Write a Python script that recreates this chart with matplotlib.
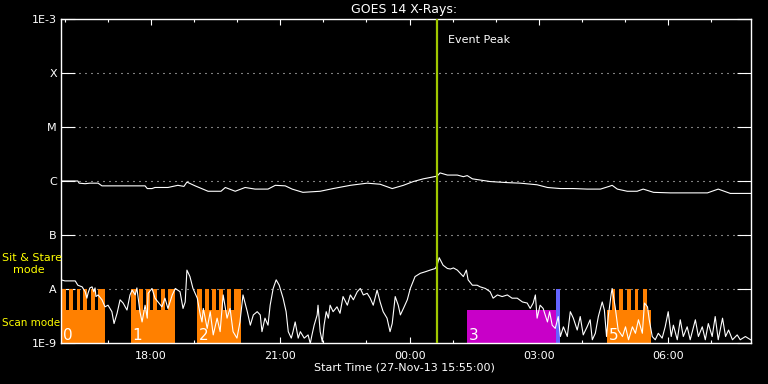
"""
GOES 14 X-ray light curve with the spectrometer observing modes
(scan / sit & stare) drawn underneath, IDL-style black plot.
"""

import matplotlib
matplotlib.use("Agg")
import matplotlib.pyplot as plt
import matplotlib.ticker as mticker
import numpy as np

TITLE = "GOES 14 X-Rays:"
XLABEL = "Start Time (27-Nov-13 15:55:00)"

# time axis: hours after 27-Nov-13 15:55 UT
# long channel (1-8 A), log10 flux in W/m^2
long_t = [0.00, 0.39, 0.42, 0.56, 0.67, 0.86, 0.95, 1.32, 1.95, 2.00,
          2.11, 2.18, 2.48, 2.71, 2.85, 2.92, 3.11, 3.41, 3.71, 3.81,
          4.04, 4.27, 4.50, 4.80, 4.97, 5.20, 5.36, 5.61, 6.01, 6.31,
          6.71, 7.10, 7.40, 7.68, 7.94, 8.17, 8.40, 8.72, 8.79, 8.96,
          9.19, 9.33, 9.42, 9.54, 9.95, 10.35, 10.65, 11.04, 11.28, 11.58,
          11.88, 12.20, 12.51, 12.71, 12.78, 12.90, 13.13, 13.36, 13.50, 13.74,
          14.13, 14.99, 15.24, 15.52, 16.01]
long_logflux = [-6.00, -6.00, -6.04, -6.05, -6.04, -6.04, -6.09, -6.09, -6.09, -6.14,
                -6.14, -6.12, -6.12, -6.08, -6.10, -6.02, -6.09, -6.19, -6.19, -6.12,
                -6.19, -6.12, -6.15, -6.15, -6.08, -6.09, -6.15, -6.21, -6.19, -6.14,
                -6.08, -6.04, -6.06, -6.14, -6.08, -6.01, -5.96, -5.91, -5.85, -5.89,
                -5.89, -5.92, -5.90, -5.96, -6.01, -6.03, -6.04, -6.07, -6.12, -6.14,
                -6.14, -6.15, -6.15, -6.10, -6.08, -6.15, -6.19, -6.19, -6.15, -6.21,
                -6.22, -6.22, -6.15, -6.23, -6.23]

# short channel (0.5-4 A), log10 flux in W/m^2
short_t = [0.00, 0.09, 0.33, 0.39, 0.49, 0.56, 0.60, 0.63, 0.67, 0.72,
           0.76, 0.79, 0.81, 0.86, 0.95, 1.02, 1.09, 1.18, 1.23, 1.30,
           1.37, 1.44, 1.53, 1.60, 1.65, 1.72, 1.76, 1.83, 1.88, 1.95,
           2.00, 2.02, 2.11, 2.18, 2.25, 2.34, 2.41, 2.48, 2.58, 2.65,
           2.76, 2.83, 2.88, 2.92, 2.99, 3.06, 3.16, 3.23, 3.27, 3.30,
           3.39, 3.46, 3.53, 3.62, 3.69, 3.76, 3.85, 3.92, 3.99, 4.08,
           4.15, 4.22, 4.32, 4.39, 4.46, 4.55, 4.62, 4.66, 4.73, 4.80,
           4.85, 4.92, 4.99, 5.06, 5.15, 5.22, 5.27, 5.34, 5.38, 5.43,
           5.50, 5.55, 5.64, 5.73, 5.78, 5.82, 5.87, 5.94, 5.96, 6.01,
           6.06, 6.10, 6.15, 6.20, 6.24, 6.31, 6.40, 6.47, 6.54, 6.64,
           6.71, 6.78, 6.87, 6.94, 7.01, 7.10, 7.17, 7.24, 7.33, 7.40,
           7.47, 7.56, 7.63, 7.68, 7.75, 7.82, 7.87, 7.94, 8.03, 8.10,
           8.21, 8.33, 8.45, 8.56, 8.68, 8.72, 8.77, 8.86, 8.96, 9.03,
           9.10, 9.19, 9.26, 9.33, 9.40, 9.44, 9.54, 9.65, 9.72, 9.84,
           9.95, 10.02, 10.12, 10.23, 10.35, 10.46, 10.58, 10.70, 10.81, 10.88,
           10.95, 11.00, 11.04, 11.11, 11.18, 11.28, 11.33, 11.39, 11.46, 11.53,
           11.58, 11.65, 11.74, 11.81, 11.88, 11.97, 12.04, 12.11, 12.20, 12.27,
           12.32, 12.39, 12.46, 12.55, 12.60, 12.65, 12.69, 12.76, 12.78, 12.85,
           12.92, 13.02, 13.09, 13.16, 13.25, 13.32, 13.39, 13.48, 13.53, 13.60,
           13.64, 13.71, 13.78, 13.85, 13.94, 14.01, 14.08, 14.15, 14.20, 14.29,
           14.36, 14.43, 14.52, 14.59, 14.71, 14.78, 14.87, 14.94, 15.01, 15.10,
           15.17, 15.24, 15.34, 15.41, 15.48, 15.57, 15.68, 15.75, 15.87, 15.99]
short_logflux = [-7.83, -7.85, -7.85, -7.93, -7.96, -8.05, -8.17, -8.07, -7.98, -7.96,
                 -8.05, -7.98, -8.14, -8.11, -8.20, -8.33, -8.30, -8.42, -8.64, -8.45,
                 -8.20, -8.26, -8.39, -8.11, -8.02, -8.11, -7.98, -8.42, -8.61, -8.30,
                 -8.54, -8.08, -7.99, -8.17, -8.24, -8.33, -8.17, -8.36, -8.11, -7.99,
                 -8.05, -8.36, -8.24, -7.65, -7.77, -7.99, -8.17, -8.48, -8.61, -8.36,
                 -8.73, -8.42, -8.85, -8.54, -8.79, -8.11, -8.54, -8.36, -8.79, -8.91,
                 -8.61, -8.11, -8.42, -8.67, -8.48, -8.42, -8.48, -8.79, -8.54, -8.67,
                 -8.30, -7.99, -7.83, -7.93, -8.17, -8.42, -8.79, -8.91, -8.79, -8.61,
                 -8.91, -8.79, -8.91, -8.85, -9.01, -8.85, -8.67, -8.48, -8.30, -8.79,
                 -8.98, -8.67, -8.42, -8.54, -8.30, -8.42, -8.33, -8.45, -8.14, -8.30,
                 -8.11, -8.20, -8.05, -7.99, -8.11, -8.08, -8.17, -8.30, -8.02, -8.24,
                 -8.42, -8.54, -8.79, -8.64, -8.14, -8.30, -8.48, -8.36, -8.20, -7.99,
                 -7.77, -7.71, -7.68, -7.65, -7.62, -7.56, -7.42, -7.56, -7.62, -7.63,
                 -7.61, -7.65, -7.71, -7.77, -7.65, -7.83, -7.93, -7.93, -7.96, -7.99,
                 -8.05, -8.17, -8.11, -8.14, -8.11, -8.17, -8.17, -8.24, -8.26, -8.36,
                 -8.26, -8.11, -8.54, -8.30, -8.36, -8.61, -8.42, -8.67, -8.73, -8.51,
                 -8.88, -8.70, -8.88, -8.42, -8.54, -8.76, -8.51, -8.85, -8.70, -8.57,
                 -8.94, -8.82, -8.51, -8.24, -8.39, -8.88, -8.51, -8.08, -7.99, -8.33,
                 -8.76, -8.88, -8.70, -8.94, -8.70, -8.82, -8.57, -8.82, -8.26, -8.33,
                 -8.57, -8.88, -8.94, -8.82, -8.91, -8.70, -8.42, -8.88, -8.67, -8.94,
                 -8.57, -8.88, -8.70, -8.94, -8.57, -8.88, -8.70, -8.94, -8.64, -8.88,
                 -8.51, -8.94, -8.54, -8.88, -8.76, -8.94, -8.85, -8.94, -8.88, -8.94]

# scan mode blocks (numbered)
scan_start = [0.00, 1.62, 3.16, 9.42, 12.67]
scan_end = [1.02, 2.65, 4.18, 11.48, 13.69]
scan_label = ["0", "1", "2", "3", "5"]
scan_color = ["#ff8000", "#ff8000", "#ff8000", "#c800c8", "#ff8000"]
scan_top = 4.1e-9

# sit & stare pulses
stare_start = [0.00, 0.19, 0.36, 0.52, 0.69, 0.86,
               1.62, 1.81, 1.98, 2.14, 2.31, 2.48,
               3.16, 3.34, 3.51, 3.67, 3.84, 4.01,
               11.48,
               12.78, 12.95, 13.13, 13.31, 13.49]
stare_end = [0.11, 0.28, 0.45, 0.61, 0.79, 1.02,
             1.73, 1.90, 2.07, 2.23, 2.41, 2.65,
             3.26, 3.43, 3.60, 3.76, 3.94, 4.18,
             11.58,
             12.85, 13.03, 13.21, 13.38, 13.59]
stare_color = ["#ff8000"] * 18 + ["#6464ff"] + ["#ff8000"] * 5
stare_top = 1e-8

event_peak_t = 8.72

flux_levels = [1e-9, 1e-8, 1e-7, 1e-6, 1e-5, 1e-4, 1e-3]
flux_labels = ["1E-9", "A", "B", "C", "M", "X", "1E-3"]
xtick_t = [2.083, 5.083, 8.083, 11.083, 14.083]
xtick_labels = ["18:00", "21:00", "00:00", "03:00", "06:00"]
minor_t = [0.083 + h for h in range(16)]

WHITE = "white"
YELLOW = "#ffff00"
PEAK_GREEN = "#a0c800"


def plot_goes():
    fig = plt.figure(figsize=(7.68, 3.84), dpi=100, facecolor="black")
    ax = fig.add_axes([61 / 768, 41 / 384, 690 / 768, 324 / 384])
    ax.set_facecolor("black")
    ax.set_yscale("log")
    ax.set_xlim(0, 16.0)
    ax.set_ylim(flux_levels[0], flux_levels[-1])

    # dotted level lines
    ax.hlines(flux_levels[1:-1], 0, 16.0, colors=WHITE, linewidth=0.8,
              linestyles=(0, (0.9, 4.5)), zorder=1)

    # observing modes
    for s, e, c in zip(scan_start, scan_end, scan_color):
        ax.bar(s, scan_top - flux_levels[0], width=e - s, bottom=flux_levels[0],
               align="edge", color=c, linewidth=0, zorder=2)
    for s, e, c in zip(stare_start, stare_end, stare_color):
        ax.bar(s, stare_top - flux_levels[0], width=e - s, bottom=flux_levels[0],
               align="edge", color=c, linewidth=0, zorder=2)
    for s, lab in zip(scan_start, scan_label):
        ax.text(s + 0.04, 1.15e-9, lab, color=WHITE, fontsize=11,
                ha="left", va="baseline", zorder=5)

    # light curves
    ax.plot(long_t, 10 ** np.array(long_logflux), color=WHITE, lw=0.8, zorder=3)
    ax.plot(short_t, 10 ** np.array(short_logflux), color=WHITE, lw=0.8, zorder=3)

    ax.axvline(event_peak_t, color=PEAK_GREEN, lw=1.6, zorder=4)
    ax.text(event_peak_t + 0.26, 4e-4, "Event Peak", color=WHITE, fontsize=8,
            ha="left", va="center", zorder=5)

    # axes styling
    for sp in ax.spines.values():
        sp.set_color(WHITE)
        sp.set_linewidth(1.0)
    ax.set_yticks(flux_levels, flux_labels)
    ax.yaxis.set_minor_locator(mticker.NullLocator())
    ax.tick_params(axis="y", which="major", direction="in", length=10, width=0.8,
                   left=True, right=True, colors=WHITE, labelsize=8, pad=3)
    ax.set_xticks(xtick_t, xtick_labels)
    ax.set_xticks(minor_t, minor=True)
    ax.tick_params(axis="x", which="major", direction="in", length=4.5, width=0.8,
                   top=True, bottom=True, colors=WHITE, labelsize=8, pad=6)
    ax.tick_params(axis="x", which="minor", direction="in", length=2.2, width=0.8,
                   top=True, bottom=True, colors=WHITE)

    fig.text(404 / 768, 1 - 9 / 384, TITLE, color=WHITE, fontsize=9,
             ha="center", va="center")
    fig.text(404 / 768, 1 - 368 / 384, XLABEL, color=WHITE, fontsize=8,
             ha="center", va="center")
    fig.text(2 / 768, 1 - 258 / 384, "Sit & Stare", color=YELLOW, fontsize=8,
             ha="left", va="center")
    fig.text(13 / 768, 1 - 270 / 384, "mode", color=YELLOW, fontsize=8,
             ha="left", va="center")
    fig.text(2 / 768, 1 - 323 / 384, "Scan mode", color=YELLOW, fontsize=7.5,
             ha="left", va="center")
    return fig


def main():
    fig = plot_goes()
    fig.savefig("out.png", dpi=100, facecolor="black")


if __name__ == "__main__":
    main()
